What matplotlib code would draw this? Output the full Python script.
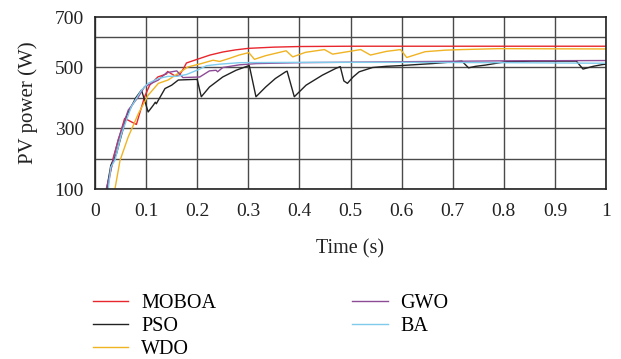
import matplotlib
matplotlib.use("Agg")
import matplotlib.pyplot as plt
import numpy as np

plt.rcParams['font.family'] = ['Liberation Serif', 'DejaVu Serif']

# ---- data ----
moboa_t = [0.024, 0.036, 0.058, 0.081, 0.097, 0.107, 0.123, 0.140, 0.142, 0.156, 0.165, 0.172, 0.179, 0.200, 0.225, 0.250, 0.275, 0.300, 0.350, 0.400, 0.500, 0.600, 0.800, 1.000]
moboa_p = [100, 205, 332, 312, 403, 441, 468, 478, 486, 472, 474, 492, 514, 526, 540, 550, 557, 562, 566, 568, 569, 569, 569, 569]

pso_t = [0.023, 0.031, 0.042, 0.062, 0.080, 0.091, 0.104, 0.114, 0.118, 0.120, 0.137, 0.150, 0.163, 0.195, 0.200,
         0.208, 0.224, 0.250, 0.276, 0.299, 0.302,
         0.315, 0.334, 0.353, 0.373, 0.376,
         0.390, 0.413, 0.445, 0.471, 0.480,
         0.487, 0.494, 0.505, 0.517, 0.543, 0.570, 0.595, 0.660, 0.718, 0.731, 0.745, 0.764, 0.803, 0.855, 0.942, 0.955, 0.975, 0.994, 1.000]
pso_p = [100, 178, 216, 341, 400, 425, 353, 375, 385, 380, 430, 441, 458, 460, 460,
         403, 435, 468, 490, 504, 505,
         403, 435, 463, 485, 487,
         403, 441, 474, 496, 502,
         455, 447, 468, 485, 499, 503, 505, 512, 520, 498, 503, 507, 518, 520, 520, 494, 503, 509, 510]

wdo_t = [0.039, 0.049, 0.065, 0.085, 0.104, 0.124, 0.143, 0.163, 0.182, 0.208, 0.231, 0.244, 0.263, 0.282, 0.301, 0.312, 0.334, 0.374, 0.387, 0.412, 0.449, 0.465, 0.520, 0.539, 0.570, 0.598, 0.610, 0.646, 0.685, 0.718, 0.790, 1.000]
wdo_p = [100, 194, 271, 348, 408, 447, 458, 480, 501, 512, 523, 519, 529, 540, 548, 526, 538, 554, 534, 549, 558, 543, 558, 540, 552, 558, 532, 551, 556, 558, 561, 560]

gwo_t = [0.022, 0.045, 0.065, 0.085, 0.097, 0.124, 0.140, 0.160, 0.172, 0.205, 0.224, 0.237, 0.240, 0.250, 0.283, 0.316, 0.400, 0.600, 0.800, 1.000]
gwo_p = [100, 260, 359, 403, 436, 458, 482, 488, 466, 468, 488, 490, 485, 499, 508, 512, 515, 518, 521, 522]

ba_t = [0.026, 0.031, 0.039, 0.052, 0.071, 0.091, 0.104, 0.124, 0.143, 0.160, 0.179, 0.205, 0.218, 0.244, 0.283, 0.400, 0.600, 0.800, 1.000]
ba_p = [100, 172, 194, 282, 370, 425, 447, 463, 470, 470, 476, 494, 505, 510, 515, 516, 516, 515, 513]

series = [
    ("MOBOA", moboa_t, moboa_p, "#e8262d"),
    ("PSO", pso_t, pso_p, "#222222"),
    ("WDO", wdo_t, wdo_p, "#f0b323"),
    ("GWO", gwo_t, gwo_p, "#8d4b96"),
    ("BA", ba_t, ba_p, "#7fcbec"),
]

x_ticks = [0, 0.1, 0.2, 0.3, 0.4, 0.5, 0.6, 0.7, 0.8, 0.9, 1]
x_labels = ["0", "0.1", "0.2", "0.3", "0.4", "0.5", "0.6", "0.7", "0.8", "0.9", "1"]
y_ticks = [100, 300, 500, 665]
y_labels = ["100", "300", "500", "700"]
y_grid = [100, 200, 300, 400, 500, 600]

fig = plt.figure(figsize=(6.21, 3.59), dpi=100)
ax = fig.add_axes([95/621, 1-189/359, 511/621, 172/359])

for name, t, p, c in series:
    ax.plot(t, p, color=c, lw=1.0, label=name)

ax.set_xlim(0, 1)
ax.set_ylim(100, 665)
ax.set_xticks(x_ticks)
ax.set_xticklabels(x_labels)
ax.set_yticks(y_ticks)
ax.set_yticklabels(y_labels)
for x in x_ticks:
    ax.axvline(x, color="#4a4a4a", lw=1.0, zorder=0)
for y in y_grid:
    ax.axhline(y, color="#4a4a4a", lw=1.0, zorder=0)
ax.tick_params(axis="x", length=0, labelsize=14, pad=10, colors="#222222")
ax.tick_params(axis="y", length=0, labelsize=14, pad=8, colors="#222222")
for s in ax.spines.values():
    s.set_color("#222222")
    s.set_linewidth(1.2)
ax.set_xlabel("Time (s)", fontsize=14.5, labelpad=14, color="#222222")
ax.set_ylabel("PV power (W)", fontsize=15, labelpad=12, color="#222222")

fig.legend(loc="upper left", bbox_to_anchor=(93/621, 1-294/359), ncol=2,
           frameon=False, fontsize=14.5, handlelength=1.75, handletextpad=0.65,
           columnspacing=6.75, labelspacing=0.2, borderaxespad=0, borderpad=0)

fig.savefig("out.png", dpi=100)
